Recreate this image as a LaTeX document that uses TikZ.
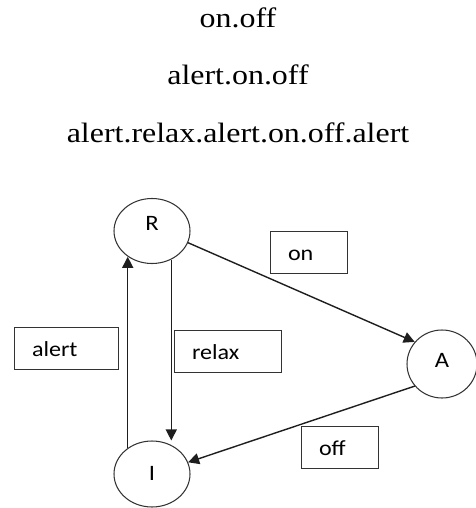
\documentclass[tikz,border=0pt]{standalone}
\usepackage{fontspec}
\setmainfont{Liberation Serif}[FakeStretch=1.14]
\newfontfamily\labelfont{Carlito}[FakeStretch=1.12]
\usetikzlibrary{shapes.geometric,arrows.meta}
\definecolor{inkline}{HTML}{1E1E1E}
\definecolor{inkthin}{HTML}{333333}
\begin{document}
\begin{tikzpicture}[x=1pt,y=-1pt,
  word/.style={anchor=base,inner sep=0pt,font=\fontsize{28}{30}\selectfont},
  stateball/.style={ellipse,draw=inkthin,line width=1.05pt,minimum width=76pt,
    minimum height=65pt,inner sep=0pt,text height=14pt,
    font=\labelfont\fontsize{22}{24}\selectfont},
  tagbox/.style={rectangle,draw=inkthin,line width=1.1pt,anchor=north west,
    align=left,inner xsep=17.5pt,inner ysep=0pt,text height=29pt,text depth=13pt,
    font=\labelfont\fontsize{21.5}{23}\selectfont},
  arr/.style={draw=inkline,line width=1.4pt,-{Triangle[length=11pt,width=11pt]}}]
\useasboundingbox (0,0) rectangle (475,508);

% sequences
\node[word] (s1) at (238,28) {on.off};
\node[word] (s2) at (238,85) {alert.on.off};
\node[word] (s3) at (238,142) {alert.relax.alert.on.off.alert};

% states
\node[stateball,text depth=16pt] (R) at (152,231) {R};
\node[stateball,minimum width=70pt,minimum height=68pt,text depth=8pt] (A) at (442,364) {A};
\node[stateball,minimum height=66pt,text depth=1pt] (I) at (152,474) {I};

% transition labels
\node[tagbox,text width=42pt] (on) at (270,231) {on};
\node[tagbox,text width=69pt] (alert) at (14,327) {alert};
\node[tagbox,text width=72pt] (relax) at (174,330) {relax};
\node[tagbox,text width=42pt] (off) at (301,426) {off};

% transitions
\draw[arr] (R.-18) -- (A.141);
\draw[arr] (R.-56) -- (R.-56 |- I.north);
\draw[arr] (I.133) -- (I.133 |- R.-133);
\draw[arr] (A.-141) -- (I.18);
\end{tikzpicture}
\end{document}
